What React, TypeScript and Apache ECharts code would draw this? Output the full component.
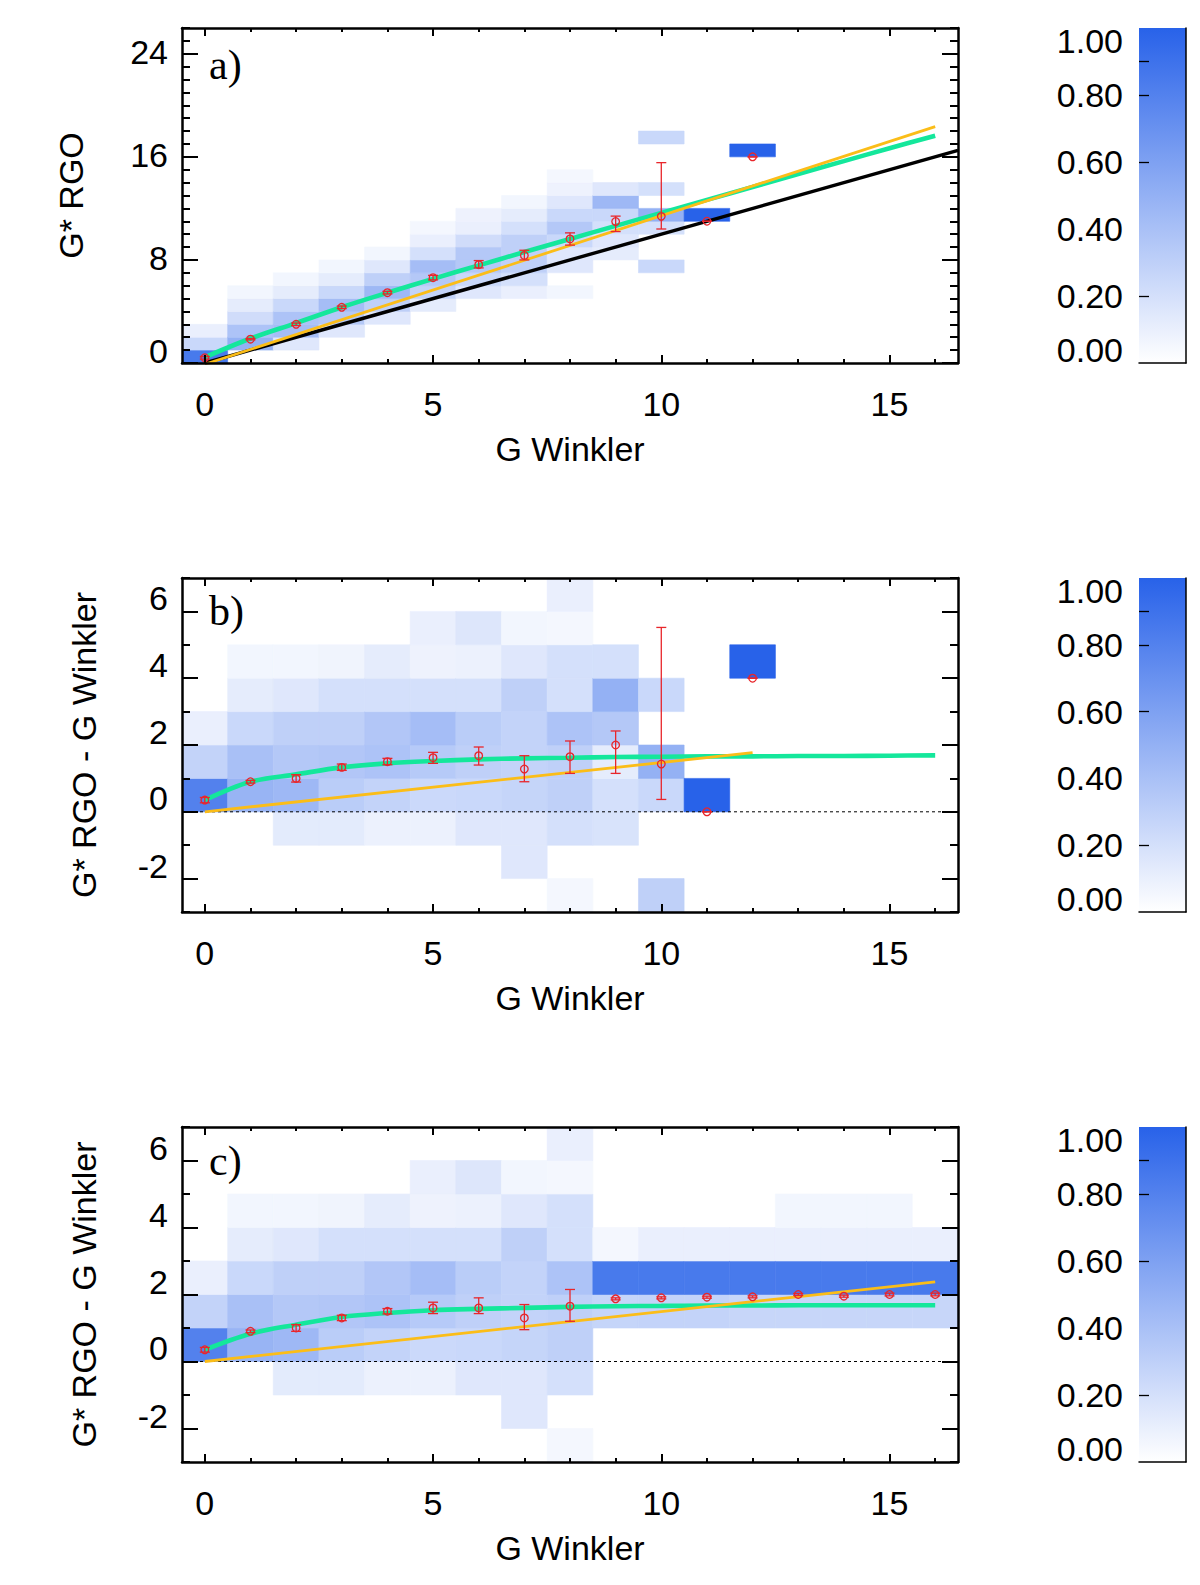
import { useEffect, useRef } from "react";
import * as echarts from "echarts";

// G Winkler bins (x) and tick marks
const gWinkler = [0, 1, 2, 3, 4, 5, 6, 7, 8, 9, 10, 11, 12, 13, 14, 15, 16];
const xMajorTicks = [0, 5, 10, 15];
const yMajorA = [0, 8, 16, 24];
const yMinorA = [0, 1, 2, 3, 4, 5, 6, 7, 8, 9, 10, 11, 12, 13, 14, 15, 16, 17, 18, 19, 20, 21, 22, 23, 24, 25, 26];
const yMajorBC = [-2, 0, 2, 4, 6];
const yMinorBC = [-3, -2, -1, 0, 1, 2, 3, 4, 5, 6, 7];
const colorbarLabels = [0, 0.2, 0.4, 0.6, 0.8, 1];
const colorbarMarks = [0.2, 0.6, 0.8, 0.9];

// 2D histograms: [G Winkler, lower edge of y bin, normalised frequency]
const heatA = [
  [0, 0, 0.85], [0, 1, 0.25], [0, 2, 0.1],
  [1, 1, 0.5], [1, 2, 0.38], [1, 3, 0.22], [1, 4, 0.12], [1, 5, 0.06],
  [2, 1, 0.15], [2, 2, 0.42], [2, 3, 0.38], [2, 4, 0.25], [2, 5, 0.12], [2, 6, 0.06],
  [3, 2, 0.15], [3, 3, 0.35], [3, 4, 0.42], [3, 5, 0.25], [3, 6, 0.12], [3, 7, 0.06],
  [4, 3, 0.15], [4, 4, 0.3], [4, 5, 0.45], [4, 6, 0.3], [4, 7, 0.15], [4, 8, 0.06],
  [5, 4, 0.12], [5, 5, 0.28], [5, 6, 0.35], [5, 7, 0.42], [5, 8, 0.2], [5, 9, 0.1], [5, 10, 0.05],
  [6, 5, 0.15], [6, 6, 0.25], [6, 7, 0.35], [6, 8, 0.35], [6, 9, 0.22], [6, 10, 0.1], [6, 11, 0.08],
  [7, 5, 0.1], [7, 6, 0.2], [7, 7, 0.3], [7, 8, 0.3], [7, 9, 0.3], [7, 10, 0.2], [7, 11, 0.12], [7, 12, 0.06],
  [8, 5, 0.06], [8, 7, 0.15], [8, 8, 0.15], [8, 9, 0.25], [8, 10, 0.35], [8, 11, 0.25], [8, 12, 0.15], [8, 13, 0.08], [8, 14, 0.05],
  [9, 8, 0.12], [9, 9, 0.15], [9, 10, 0.2], [9, 11, 0.25], [9, 12, 0.45], [9, 13, 0.15],
  [10, 7, 0.25], [10, 10, 0.2], [10, 11, 0.5], [10, 13, 0.2], [10, 17, 0.25],
  [11, 11, 1], [12, 16, 1],
];

// panels b and c share the low-G part of the difference histogram
const heatLowBC = [
  [0, 0, 0.8], [0, 1, 0.28], [0, 2, 0.1],
  [1, 0, 0.48], [1, 1, 0.4], [1, 2, 0.25], [1, 3, 0.12], [1, 4, 0.06],
  [2, -1, 0.13], [2, 0, 0.45], [2, 1, 0.35], [2, 2, 0.3], [2, 3, 0.15], [2, 4, 0.06],
  [3, -1, 0.13], [3, 0, 0.32], [3, 1, 0.36], [3, 2, 0.3], [3, 3, 0.2], [3, 4, 0.07],
  [4, -1, 0.09], [4, 0, 0.28], [4, 1, 0.38], [4, 2, 0.36], [4, 3, 0.2], [4, 4, 0.12],
  [5, -1, 0.09], [5, 0, 0.24], [5, 1, 0.34], [5, 2, 0.42], [5, 3, 0.2], [5, 4, 0.08], [5, 5, 0.1],
  [6, -1, 0.15], [6, 0, 0.25], [6, 1, 0.3], [6, 2, 0.32], [6, 3, 0.2], [6, 4, 0.09], [6, 5, 0.16],
  [7, -2, 0.15], [7, -1, 0.15], [7, 0, 0.27], [7, 1, 0.28], [7, 2, 0.28], [7, 3, 0.3], [7, 4, 0.15], [7, 5, 0.06],
  [8, -3, 0.05], [8, -1, 0.2], [8, 0, 0.3], [8, 1, 0.3], [8, 2, 0.38], [8, 3, 0.2], [8, 4, 0.2], [8, 5, 0.05], [8, 6, 0.1],
];
const heatTailB = [
  [9, -1, 0.18], [9, 0, 0.2], [9, 1, 0.12], [9, 2, 0.35], [9, 3, 0.5], [9, 4, 0.2],
  [10, -3, 0.3], [10, 0, 0.25], [10, 1, 0.5], [10, 3, 0.25],
  [11, 0, 1], [12, 4, 1],
];
const heatTailC = [
  [9, 1, 0.27], [9, 2, 0.85], [9, 3, 0.05],
  [10, 1, 0.28], [10, 2, 0.85], [10, 3, 0.1],
  [11, 1, 0.28], [11, 2, 0.85], [11, 3, 0.1],
  [12, 1, 0.26], [12, 2, 0.85], [12, 3, 0.1],
  [13, 1, 0.26], [13, 2, 0.85], [13, 3, 0.1], [13, 4, 0.06],
  [14, 1, 0.26], [14, 2, 0.85], [14, 3, 0.1], [14, 4, 0.06],
  [15, 1, 0.26], [15, 2, 0.85], [15, 3, 0.1], [15, 4, 0.06],
  [16, 1, 0.26], [16, 2, 0.85], [16, 3, 0.1],
];

// green fit, sampled at gWinkler
const greenA = [0.44, 1.9, 3.1, 4.33, 5.45, 6.53, 7.58, 8.61, 9.63, 10.64, 11.65, 12.66, 13.66, 14.67, 15.67, 16.67, 17.64];
const greenB = [0.35, 0.9, 1.12, 1.33, 1.45, 1.52, 1.57, 1.6, 1.62, 1.64, 1.65, 1.66, 1.66, 1.67, 1.67, 1.68, 1.69];
const greenC = [0.35, 0.83, 1.1, 1.33, 1.45, 1.53, 1.57, 1.6, 1.63, 1.65, 1.66, 1.67, 1.67, 1.68, 1.68, 1.68, 1.68];

// straight lines: [x, y] end points
const orangeA = [[0, -0.1], [16, 18.35]];
const orangeB = [[0, 0], [12, 1.77]];
const orangeC = [[0, 0], [16, 2.38]];
const blackA = [[0, 0], [16.5, 16.5]];
const zeroLine = [[-0.5, 0], [16.5, 0]];

// bin means with error bars: [G Winkler, mean, low, high]
const pointsA = [
  [0, 0.4, 0.3, 0.5], [1, 1.85, 1.8, 1.9], [2, 3.0, 2.9, 3.1], [3, 4.32, 4.22, 4.42],
  [4, 5.46, 5.36, 5.56], [5, 6.62, 6.45, 6.8], [6, 7.63, 7.38, 7.95], [7, 8.35, 8.0, 8.75],
  [8, 9.63, 9.15, 10.1], [9, 10.98, 10.2, 11.4], [10, 11.38, 10.4, 15.55],
  [11, 11.0, 11.0, 11.0], [12, 16.0, 16.0, 16.0],
];
const pointsB = [
  [0, 0.35, 0.27, 0.43], [1, 0.9, 0.86, 0.94], [2, 1.0, 0.89, 1.11], [3, 1.33, 1.24, 1.43],
  [4, 1.5, 1.41, 1.6], [5, 1.62, 1.45, 1.78], [6, 1.68, 1.4, 1.94], [7, 1.28, 0.9, 1.68],
  [8, 1.65, 1.15, 2.12], [9, 2.0, 1.15, 2.42], [10, 1.43, 0.37, 5.52],
  [11, 0, 0, 0], [12, 4, 4, 4],
];
const pointsC = [
  [0, 0.35, 0.28, 0.42], [1, 0.9, 0.86, 0.94], [2, 1.0, 0.9, 1.1], [3, 1.3, 1.22, 1.38],
  [4, 1.5, 1.42, 1.58], [5, 1.6, 1.43, 1.77], [6, 1.6, 1.43, 1.9], [7, 1.3, 0.95, 1.7],
  [8, 1.65, 1.2, 2.15], [9, 1.87, 1.84, 1.9], [10, 1.9, 1.87, 1.93], [11, 1.92, 1.89, 1.95],
  [12, 1.93, 1.9, 1.96], [13, 2.0, 1.97, 2.03], [14, 1.95, 1.92, 1.98], [15, 2.0, 1.96, 2.04],
  [16, 2.0, 1.96, 2.04],
];

const FONT = '"Liberation Sans", Arial, sans-serif';
const SERIF = '"Liberation Serif", "Times New Roman", serif';
const BLUE = "#2862e9";
const GREEN = "#14e79b";
const ORANGE = "#fbbd18";
const RED = "#e8262b";
const PLOT_LEFT = 182;
const PLOT_WIDTH = 776;
const BAR_LEFT = 1139;
const BAR_WIDTH = 47;

const txt = { color: "#000", fontFamily: FONT, fontSize: 34 };
const frame = { show: true, onZero: false, lineStyle: { color: "#000", width: 2.5 } };
const noLine = { show: false, onZero: false };
const ticks = (values: number[], length: number) => ({
  show: true, inside: true, length, customValues: values,
  lineStyle: { color: "#000", width: 2 },
});

const renderCell = (_p: any, api: any) => {
  const x = api.value(0);
  const y = api.value(1);
  const a = api.coord([x - 0.5, y + 1]);
  const b = api.coord([x + 0.5, y]);
  const c = api.visual("color");
  return {
    type: "rect",
    shape: { x: a[0], y: a[1], width: b[0] - a[0], height: b[1] - a[1] },
    style: { fill: c, stroke: c, lineWidth: 0.6 },
  };
};

const renderErr = (_p: any, api: any) => {
  const x = api.value(0);
  const m = api.coord([x, api.value(1)]);
  const lo = api.coord([x, api.value(2)]);
  const hi = api.coord([x, api.value(3)]);
  const st = { stroke: RED, lineWidth: 1.3, fill: "none" };
  return {
    type: "group",
    children: [
      { type: "line", shape: { x1: m[0], y1: lo[1], x2: m[0], y2: hi[1] }, style: st },
      { type: "line", shape: { x1: m[0] - 5, y1: lo[1], x2: m[0] + 5, y2: lo[1] }, style: st },
      { type: "line", shape: { x1: m[0] - 5, y1: hi[1], x2: m[0] + 5, y2: hi[1] }, style: st },
      { type: "circle", shape: { cx: m[0], cy: m[1], r: 3.8 }, style: st },
    ],
  };
};

// lift = bottom padding (px) of the y tick labels; the label moves up by half of it
const panels = [
  {
    top: 28, height: 335, yMin: 0, yMax: 26, yMajor: yMajorA, yMinor: yMinorA,
    yName: "G* RGO", nameGap: 94, lift: 4, zeroLift: 24, letter: "a)", letterY: 65,
    heat: heatA, green: greenA, orange: orangeA, points: pointsA, black: blackA, zero: null,
  },
  {
    top: 578, height: 334, yMin: -3, yMax: 7, yMajor: yMajorBC, yMinor: yMinorBC,
    yName: "G* RGO - G Winkler", nameGap: 81, lift: 26, zeroLift: 28, letter: "b)", letterY: 611,
    heat: [...heatLowBC, ...heatTailB], green: greenB, orange: orangeB, points: pointsB, black: null, zero: zeroLine,
  },
  {
    top: 1127, height: 335, yMin: -3, yMax: 7, yMajor: yMajorBC, yMinor: yMinorBC,
    yName: "G* RGO - G Winkler", nameGap: 81, lift: 26, zeroLift: 28, letter: "c)", letterY: 1161,
    heat: [...heatLowBC, ...heatTailC], green: greenC, orange: orangeC, points: pointsC, black: null, zero: zeroLine,
  },
];

function buildOption() {
  const grid: any[] = [];
  const xAxis: any[] = [];
  const yAxis: any[] = [];
  const series: any[] = [];
  const graphic: any[] = [];
  const heatIdx: number[] = [];

  panels.forEach((p) => {
    const gi = grid.length;
    grid.push({ left: PLOT_LEFT, top: p.top, width: PLOT_WIDTH, height: p.height });
    const xi = xAxis.length;
    const yi = yAxis.length;
    const xc = { type: "value", gridIndex: gi, min: -0.5, max: 16.5, splitLine: { show: false }, z: 10 };
    xAxis.push(
      {
        ...xc, position: "bottom", axisLine: frame, axisTick: ticks(xMajorTicks, 8),
        axisLabel: { ...txt, customValues: xMajorTicks, margin: 24 },
        name: "G Winkler", nameLocation: "middle", nameGap: 69, nameTextStyle: txt,
      },
      { ...xc, position: "bottom", axisLine: noLine, axisTick: ticks(gWinkler, 4), axisLabel: { show: false } },
      { ...xc, position: "top", axisLine: frame, axisTick: ticks(xMajorTicks, 8), axisLabel: { show: false } },
      { ...xc, position: "top", axisLine: noLine, axisTick: ticks(gWinkler, 4), axisLabel: { show: false } },
    );
    const yc = { type: "value", gridIndex: gi, min: p.yMin, max: p.yMax, splitLine: { show: false }, z: 10 };
    yAxis.push(
      {
        ...yc, position: "left", axisLine: frame, axisTick: ticks(p.yMajor, 16),
        axisLabel: {
          ...txt, customValues: p.yMajor, margin: 14,
          formatter: (v: number) => (v === 0 ? "{z|0}" : `{s|${v}}`),
          rich: {
            s: { ...txt, padding: [0, 0, p.lift, 0] },
            z: { ...txt, padding: [0, 0, p.zeroLift, 0] },
          },
        },
        name: p.yName, nameLocation: "middle", nameGap: p.nameGap, nameTextStyle: txt,
      },
      { ...yc, position: "left", axisLine: noLine, axisTick: ticks(p.yMinor, 8), axisLabel: { show: false } },
      { ...yc, position: "right", axisLine: frame, axisTick: ticks(p.yMajor, 16), axisLabel: { show: false } },
      { ...yc, position: "right", axisLine: noLine, axisTick: ticks(p.yMinor, 8), axisLabel: { show: false } },
    );

    heatIdx.push(series.length);
    series.push({
      type: "custom", xAxisIndex: xi, yAxisIndex: yi, data: p.heat,
      encode: { x: 0, y: 1 }, renderItem: renderCell, clip: true, silent: true, z: 1,
    });
    const line = (data: number[][], color: string, width: number, extra: any = {}) => ({
      type: "line", xAxisIndex: xi, yAxisIndex: yi, data, showSymbol: false, symbol: "none",
      lineStyle: { color, width, ...extra }, silent: true, z: 3,
    });
    if (p.zero) series.push(line(p.zero, "#000", 1, { type: [3, 3] }));
    if (p.black) series.push(line(p.black, "#000", 3.4));
    series.push({ ...line(gWinkler.map((g, k) => [g, p.green[k]]), GREEN, 4.6), smooth: 0.35 });
    series.push(line(p.orange, ORANGE, 2.8));
    series.push({
      type: "custom", xAxisIndex: xi, yAxisIndex: yi, data: p.points,
      encode: { x: 0, y: [1, 2, 3] }, renderItem: renderErr, clip: true, silent: true, z: 5,
    });

    graphic.push({
      type: "text", x: 209, y: p.letterY, z: 20,
      style: { text: p.letter, fontFamily: SERIF, fontSize: 42, fill: "#000", align: "left", verticalAlign: "middle" },
    });

    // colour bar
    const cg = grid.length;
    grid.push({ left: BAR_LEFT, top: p.top, width: BAR_WIDTH, height: p.height });
    const cx = xAxis.length;
    const cy = yAxis.length;
    xAxis.push({
      type: "category", gridIndex: cg, data: ["f"], position: "bottom", z: 10,
      axisLine: { show: true, onZero: false, lineStyle: { color: "#000", width: 1.5 } },
      axisTick: { show: false }, axisLabel: { show: false },
    });
    yAxis.push(
      {
        type: "value", gridIndex: cg, min: 0, max: 1, position: "left", z: 10,
        splitLine: { show: false }, axisLine: noLine,
        axisTick: { show: true, inside: true, length: 10, customValues: colorbarMarks, lineStyle: { color: "#000", width: 1.3 } },
        axisLabel: {
          ...txt, customValues: colorbarLabels, margin: 16,
          formatter: (v: number) => (v >= 1 ? "{hi|1.00}" : v <= 0 ? "{lo|0.00}" : v.toFixed(2)),
          rich: {
            hi: { ...txt, padding: [25, 0, 0, 0] },
            lo: { ...txt, padding: [0, 0, 26, 0] },
          },
        },
      },
      {
        type: "value", gridIndex: cg, min: 0, max: 1, position: "right", z: 10,
        splitLine: { show: false }, axisLine: { show: true, onZero: false, lineStyle: { color: "#000", width: 1.5 } },
        axisTick: { show: false }, axisLabel: { show: false },
      },
    );
    series.push({
      type: "bar", xAxisIndex: cx, yAxisIndex: cy, data: [1], barWidth: "100%", silent: true, z: 1,
      itemStyle: {
        color: new echarts.graphic.LinearGradient(0, 0, 0, 1, [
          { offset: 0, color: BLUE },
          { offset: 1, color: "#ffffff" },
        ]),
      },
    });
  });

  return {
    animation: false,
    backgroundColor: "#fff",
    grid,
    xAxis,
    yAxis,
    series,
    graphic,
    visualMap: {
      show: false, type: "continuous", min: 0, max: 1, dimension: 2,
      seriesIndex: heatIdx, inRange: { color: ["#ffffff", BLUE] },
    },
  };
}

export default function App() {
  const chartRef = useRef<HTMLDivElement | null>(null);

  useEffect(() => {
    if (!chartRef.current) return;
    const chart = echarts.init(chartRef.current, null, { renderer: "svg" });
    chart.setOption(buildOption() as any);
    return () => {
      chart.dispose();
    };
  }, []);

  return (
    <div
      ref={chartRef}
      style={{ position: "absolute", left: 0, top: 0, width: 1200, height: 1585, background: "#fff" }}
    />
  );
}
